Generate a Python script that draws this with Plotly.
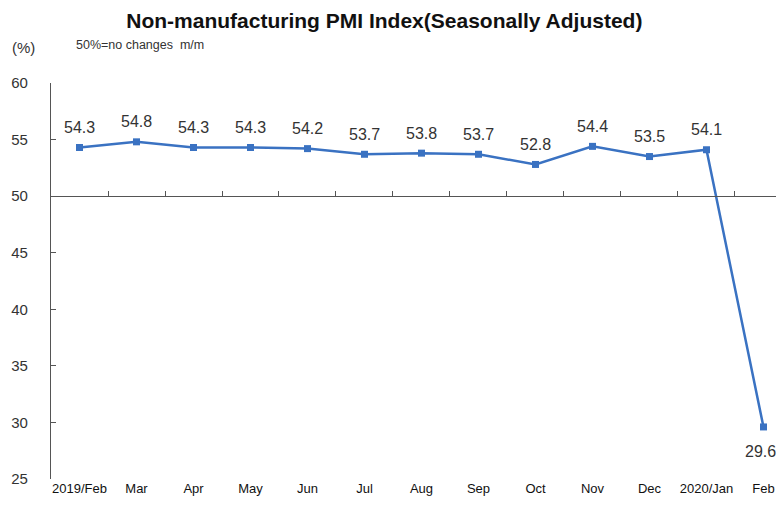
import plotly.graph_objects as go

months = ["2019/Feb", "Mar", "Apr", "May", "Jun", "Jul", "Aug", "Sep", "Oct", "Nov", "Dec", "2020/Jan", "Feb"]
pmi = [54.3, 54.8, 54.3, 54.3, 54.2, 53.7, 53.8, 53.7, 52.8, 54.4, 53.5, 54.1, 29.6]
y_ticks = [25, 30, 35, 40, 45, 50, 55, 60]

LINE = "#3A72C2"
TXT = "#333333"
FONT = "Liberation Sans, Arial, sans-serif"

fig = go.Figure()
fig.add_trace(go.Scatter(
    x=months, y=pmi, mode="lines+markers",
    line=dict(color=LINE, width=2.5),
    marker=dict(symbol="square", size=7, color=LINE),
    hoverinfo="x+y", showlegend=False,
))
# invisible trace that carries the 50% baseline axis
fig.add_trace(go.Scatter(x=months, y=pmi, xaxis="x2", mode="markers",
                         marker=dict(opacity=0), hoverinfo="skip", showlegend=False))

for i, (m, v) in enumerate(zip(months, pmi)):
    last = i == len(months) - 1
    fig.add_annotation(x=m, y=v, text=f"{v:.1f}", showarrow=False,
                       yshift=-25 if last else 20, xshift=-3 if last else 0,
                       font=dict(family=FONT, size=16, color=TXT))

n = len(months)
# page body adds an 8px offset, so the figure is 8px smaller than the window
fig.update_layout(
    width=776, height=500,
    margin=dict(l=43, r=0, t=75, b=29),
    paper_bgcolor="white", plot_bgcolor="white",
    title=dict(text="<b>Non-manufacturing PMI Index(Seasonally Adjusted)</b>",
               x=0.485, xanchor="center", y=0.974, yanchor="middle",
               font=dict(family=FONT, size=21, color="#111111")),
    xaxis=dict(type="category", categoryorder="array", categoryarray=months,
               range=[-0.5, 12.36], showline=False, ticks="", showgrid=False,
               zeroline=False, tickfont=dict(family=FONT, size=13, color="#111111"),
               fixedrange=True),
    xaxis2=dict(type="category", categoryorder="array", categoryarray=months,
                overlaying="x", anchor="free", position=(50 - 25) / (60 - 25),
                range=[-0.5, 12.36], showline=True, linecolor="#555555", linewidth=1.2,
                tickmode="array", tickvals=[i + 0.5 for i in range(n - 1)],
                ticks="inside", ticklen=5, tickcolor="#555555", tickwidth=1,
                showticklabels=False, showgrid=False, zeroline=False, side="bottom"),
    yaxis=dict(range=[25, 60], tickmode="array", tickvals=y_ticks,
               showline=True, linecolor="#555555", linewidth=1.2,
               ticks="inside", ticklen=5, tickcolor="#555555",
               showgrid=False, zeroline=False, ticklabelstandoff=19,
               tickfont=dict(family=FONT, size=15, color=TXT), fixedrange=True),
)

fig.add_annotation(xref="paper", yref="paper", x=-0.037, y=1.09, text="(%)",
                   showarrow=False, xanchor="center", yanchor="middle",
                   font=dict(family=FONT, size=15, color=TXT))
fig.add_annotation(xref="paper", yref="paper", x=0.031, y=1.097, text="50%=no changes  m/m",
                   showarrow=False, xanchor="left", yanchor="middle",
                   font=dict(family=FONT, size=12.5, color=TXT))

fig.write_html("out.html")
